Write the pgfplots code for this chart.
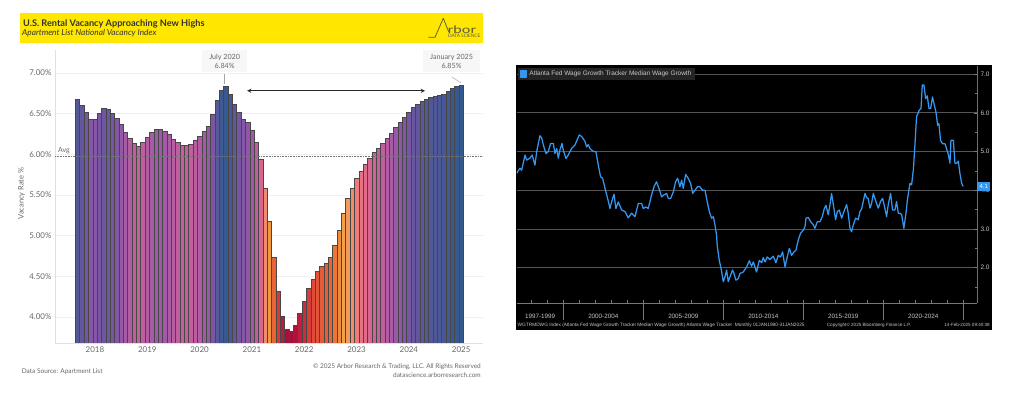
\documentclass[border=0pt]{standalone}
\usepackage{pgfplots}
\pgfplotsset{compat=1.18}
\usepackage{pgfplotstable}
\usepackage{fontspec}
\setmainfont{Lato}
\newfontfamily\bbgfont{Liberation Sans}

\definecolor{arboryellow}{RGB}{255,231,0}
\definecolor{inkdark}{RGB}{51,51,51}
\definecolor{inkgray}{RGB}{105,105,105}
\definecolor{logoink}{RGB}{88,88,66}
\definecolor{wgblue}{RGB}{52,152,240}
\definecolor{bbggrid}{RGB}{85,85,85}
\definecolor{bbgline}{RGB}{120,120,120}
\definecolor{bbgaxis}{RGB}{70,120,180}
\definecolor{bbgtext}{RGB}{200,200,200}

% one vertical bar per month: the mark hangs from the data point and is clipped at the axis floor
\pgfdeclareplotmark{vacbar}{%
  \pgfpathrectangle{\pgfpoint{-2.18bp}{-600bp}}{\pgfpoint{4.36bp}{600bp}}%
  \pgfusepathqfillstroke}

% Apartment List national vacancy index, monthly, Sep 2017 (idx 0) to Jan 2025 (idx 88)
\pgfplotstableread{
idx rate
0 6.68
1 6.60
2 6.52
3 6.43
4 6.43
5 6.50
6 6.56
7 6.55
8 6.50
9 6.44
10 6.37
11 6.27
12 6.20
13 6.14
14 6.10
15 6.15
16 6.21
17 6.27
18 6.31
19 6.31
20 6.28
21 6.25
22 6.19
23 6.15
24 6.11
25 6.11
26 6.12
27 6.17
28 6.22
29 6.28
30 6.34
31 6.49
32 6.66
33 6.79
34 6.84
35 6.74
36 6.62
37 6.52
38 6.43
39 6.39
40 6.29
41 6.15
42 5.94
43 5.58
44 5.18
45 4.73
46 4.32
47 4.01
48 3.85
49 3.83
50 3.90
51 4.05
52 4.19
53 4.35
54 4.47
55 4.56
56 4.62
57 4.66
58 4.74
59 4.88
60 5.07
61 5.27
62 5.46
63 5.58
64 5.70
65 5.79
66 5.88
67 5.95
68 6.02
69 6.08
70 6.14
71 6.20
72 6.26
73 6.33
74 6.39
75 6.45
76 6.52
77 6.58
78 6.61
79 6.65
80 6.68
81 6.70
82 6.71
83 6.72
84 6.74
85 6.77
86 6.81
87 6.84
88 6.85
}\vacancy

% Atlanta Fed wage growth tracker, median wage growth (%)
\pgfplotstableread{
year growth
1997.09 4.44
1997.29 4.57
1997.40 4.52
1997.61 4.91
1997.71 4.78
1997.92 4.83
1998.06 4.91
1998.23 4.65
1998.34 5.00
1998.54 5.41
1998.65 5.35
1998.79 5.12
1998.92 4.95
1999.06 5.00
1999.21 5.21
1999.38 5.21
1999.48 4.95
1999.59 5.08
1999.69 4.83
1999.79 5.04
1999.92 5.21
2000.00 5.04
2000.17 4.82
2000.31 4.91
2000.52 5.08
2000.73 5.17
2001.00 5.43
2001.15 5.39
2001.36 5.26
2001.46 5.12
2001.56 5.18
2001.67 5.08
2001.88 5.00
2002.04 5.00
2002.19 4.65
2002.33 4.35
2002.46 4.31
2002.61 4.05
2002.75 3.83
2002.92 3.53
2003.02 3.70
2003.17 3.90
2003.29 3.53
2003.44 3.70
2003.65 3.49
2003.86 3.45
2004.06 3.29
2004.27 3.41
2004.48 3.32
2004.69 3.66
2004.90 3.66
2005.00 3.53
2005.17 3.57
2005.31 3.53
2005.52 3.88
2005.67 4.09
2005.83 4.22
2005.98 4.05
2006.15 3.83
2006.29 3.88
2006.46 3.92
2006.56 3.79
2006.71 3.79
2006.88 3.96
2007.02 4.22
2007.15 4.31
2007.29 4.09
2007.40 4.26
2007.50 4.05
2007.65 4.41
2007.81 4.31
2007.96 4.18
2008.09 3.92
2008.23 4.00
2008.38 4.09
2008.54 4.09
2008.71 4.00
2008.86 4.00
2009.00 3.70
2009.13 3.45
2009.27 3.28
2009.38 3.32
2009.48 3.11
2009.58 2.85
2009.63 2.54
2009.75 2.20
2009.90 1.90
2010.00 1.64
2010.11 1.77
2010.21 1.94
2010.31 1.64
2010.46 1.81
2010.58 1.94
2010.67 1.85
2010.79 1.68
2010.94 1.72
2011.04 1.85
2011.25 1.89
2011.46 2.02
2011.63 2.18
2011.77 2.04
2011.88 2.15
2012.08 1.89
2012.25 2.19
2012.40 2.13
2012.50 2.26
2012.61 2.15
2012.75 2.28
2012.92 2.21
2013.13 2.30
2013.29 2.13
2013.44 2.32
2013.58 2.28
2013.71 2.41
2013.86 2.02
2014.00 2.28
2014.13 2.50
2014.27 2.32
2014.42 2.41
2014.54 2.45
2014.69 2.72
2014.83 2.89
2015.00 2.97
2015.11 3.06
2015.17 3.28
2015.31 3.30
2015.46 3.19
2015.63 3.11
2015.73 3.02
2015.88 3.19
2016.04 3.19
2016.19 3.32
2016.31 3.52
2016.42 3.61
2016.56 3.37
2016.67 3.63
2016.77 3.92
2016.88 3.63
2017.02 3.24
2017.13 3.45
2017.25 3.49
2017.40 3.28
2017.54 3.45
2017.71 3.63
2017.81 3.41
2017.92 3.02
2018.02 2.93
2018.13 3.11
2018.27 3.28
2018.44 3.24
2018.54 3.45
2018.65 3.52
2018.75 3.71
2018.86 3.92
2018.96 3.81
2019.06 3.79
2019.17 3.54
2019.27 3.66
2019.38 3.92
2019.54 3.71
2019.69 3.54
2019.83 3.71
2019.96 3.79
2020.10 3.54
2020.21 3.32
2020.31 3.63
2020.46 3.92
2020.58 3.49
2020.73 3.49
2020.83 3.71
2020.94 3.41
2021.04 3.41
2021.15 3.37
2021.29 3.02
2021.42 3.41
2021.52 3.79
2021.67 4.18
2021.77 4.14
2021.88 4.52
2021.98 5.17
2022.08 5.90
2022.25 6.07
2022.36 6.11
2022.44 6.72
2022.54 6.72
2022.65 6.37
2022.75 6.44
2022.86 6.11
2022.96 6.11
2023.08 6.41
2023.19 6.20
2023.29 6.03
2023.40 5.68
2023.48 5.72
2023.58 5.29
2023.71 5.20
2023.86 5.20
2023.96 5.07
2024.06 4.94
2024.17 4.70
2024.23 5.29
2024.38 5.29
2024.48 4.70
2024.58 4.70
2024.69 4.75
2024.79 4.44
2024.90 4.18
2025.00 4.10
}\wagegrowth

\begin{document}
\begin{tikzpicture}
\path[use as bounding box] (0bp,0bp) rectangle (1024bp,402bp);
\fill[white] (0bp,0bp) rectangle (1024bp,402bp);

%% ---------------- Arbor panel ----------------
\begin{scope}[x=1bp,y=1bp]
\fill[arboryellow] (20,359) rectangle (483,389);
\node[anchor=base west, inner sep=0, text=inkdark,
      font=\fontsize{9.2}{10}\selectfont\bfseries] at (23,376)
  {U.S. Rental Vacancy Approaching New Highs};
\node[anchor=base west, inner sep=0, text=inkdark,
      font=\fontsize{8.3}{9}\selectfont\itshape] at (22,366.2)
  {Apartment List National Vacancy Index};
% logo
\draw[logoink, line width=0.75, line join=round]
  (428.3,364.7) -- (435,364.7) -- (443.3,383.7) -- (448.6,370.4);
\node[anchor=base west, inner sep=0, text=logoink, xscale=1.45,
      font=\fontsize{10.5}{11}\selectfont] at (447.6,368.8) {rbor};
\node[anchor=base east, inner sep=0, text=logoink,
      font=\fontsize{4.7}{5}\selectfont] at (480.5,364.3) {DATA SCIENCE};
\end{scope}

\begin{axis}[
  at={(55bp,59bp)}, anchor=south west,
  width=428bp, height=293bp, scale only axis,
  xmin=-5.16, xmax=93.0, ymin=3.682, ymax=7.281,
  axis lines*=left,
  axis line style={black!12, line width=0.6},
  major tick length=0pt,
  xtick={4,16,28,40,52,64,76,88},
  xticklabels={2018,2019,2020,2021,2022,2023,2024,2025},
  ytick={4,4.5,5,5.5,6,6.5,7},
  yticklabel={\pgfmathprintnumber[fixed,fixed zerofill,precision=2]{\tick}\%},
  /pgf/number format/assume math mode=true,
  ymajorgrids, major grid style={black!6, line width=0.6},
  tick label style={font=\fontsize{8}{9}\selectfont, text=inkgray},
  ylabel={Vacancy Rate \%},
  ylabel style={font=\fontsize{7.5}{8}\selectfont, text=inkgray, inner sep=1bp, xshift=3bp},
  colormap={vacmap}{
    rgb255(38pt)=(160,12,58);
    rgb255(41pt)=(198,34,60);
    rgb255(44pt)=(220,68,56);
    rgb255(47pt)=(232,98,54);
    rgb255(50pt)=(238,132,58);
    rgb255(53pt)=(243,164,72);
    rgb255(55pt)=(244,150,100);
    rgb255(57pt)=(238,122,122);
    rgb255(59pt)=(222,104,140);
    rgb255(61.5pt)=(192,94,160);
    rgb255(63pt)=(160,90,168);
    rgb255(65pt)=(120,86,165);
    rgb255(67pt)=(80,88,152);
    rgb255(69pt)=(42,90,140)
  },
  point meta min=3.8, point meta max=6.9,
  clip marker paths=true,
]
\addplot[scatter, only marks, mark=vacbar, point meta=y,
  scatter/use mapped color={draw=black!72, fill=mapped color},
  mark options={line width=0.45bp}]
  table[x=idx, y=rate] {\vacancy};
% long-run average
\addplot[black!55, densely dotted, line width=0.6bp]
  coordinates {(-5.16,5.98) (93,5.98)};
\coordinate (avgL) at (axis cs:-5.16,5.98);
\coordinate (julBox) at (axis cs:33.75,7.142);
\coordinate (julA) at (axis cs:33.6,6.985);
\coordinate (julB) at (axis cs:33.6,6.86);
\coordinate (janBox) at (axis cs:85.8,7.142);
\coordinate (janA) at (axis cs:85.9,6.95);
\coordinate (janB) at (axis cs:87.95,6.877);
\coordinate (arrL) at (axis cs:38.9,6.78);
\coordinate (arrR) at (axis cs:79.7,6.78);
\end{axis}

\node[anchor=base west, inner sep=0, text=inkgray,
      font=\fontsize{7}{8}\selectfont] at ([xshift=3bp,yshift=3.5bp]avgL) {Avg};
\node[fill=black!3, minimum width=45bp, minimum height=22bp, inner sep=1bp,
      align=center, text=inkgray, font=\fontsize{7.2}{9}\selectfont] at (julBox)
  {July 2020\\6.84\%};
\draw[black!35, line width=0.45bp] (julA) -- (julB);
\node[fill=black!3, minimum width=57bp, minimum height=22bp, inner sep=1bp,
      align=center, text=inkgray, font=\fontsize{7.2}{9}\selectfont] at (janBox)
  {January 2025\\6.85\%};
\draw[black!35, line width=0.45bp] (janA) -- (janB);
\draw[<->, >=stealth, black!85, line width=0.9bp] (arrL) -- (arrR);

\begin{scope}[x=1bp,y=1bp]
\node[anchor=base west, inner sep=0, text=inkgray,
      font=\fontsize{6.5}{7}\selectfont] at (21.7,28.5) {Data Source: Apartment List};
\node[anchor=base east, inner sep=0, text=inkgray,
      font=\fontsize{6.5}{7}\selectfont] at (481,33.5)
  {\textcopyright{} 2025 Arbor Research \& Trading, LLC. All Rights Reserved};
\node[anchor=base east, inner sep=0, text=inkgray,
      font=\fontsize{6.5}{7}\selectfont] at (481,25) {datascience.arborresearch.com};

%% ---------------- Bloomberg panel ----------------
\fill[black] (516,72) rectangle (992,337);
\end{scope}

\begin{axis}[
  at={(516.7bp,99bp)}, anchor=south west,
  width=460.3bp, height=237bp, scale only axis,
  xmin=1997.09, xmax=2025.86, ymin=1.09, ymax=7.21,
  axis x line*=bottom, axis y line*=right,
  x axis line style={bbgline, line width=0.8bp},
  y axis line style={bbgaxis, line width=0.8bp},
  tick align=inside,
  major tick length=3bp, minor tick length=2bp,
  tick style={bbgline, line width=0.6bp},
  xtick={1998,...,2025}, xticklabels={},
  extra x ticks={2000,2005,2010,2015,2020,2025},
  extra x tick labels={},
  extra x tick style={tick align=outside, major tick length=17bp},
  ytick={2,3,4,5,6,7},
  minor ytick={1.5,2.5,3.5,4.5,5.5,6.5},
  yticklabel style={font=\bbgfont\fontsize{6.5}{7}\selectfont, text=bbgtext},
  yticklabel style={/pgf/number format/.cd, fixed, fixed zerofill, precision=1,
                    assume math mode=true},
  ymajorgrids, major grid style={bbggrid, line width=0.8bp},
  legend style={at={(0,1)}, anchor=north west, xshift=1.3bp, yshift=-2bp,
                fill=black!86, draw=none, text=bbgtext, inner xsep=2bp, inner ysep=0.8bp,
                font=\bbgfont\fontsize{6.5}{7}\selectfont},
  legend cell align=left,
  legend image code/.code={\fill[wgblue] (0bp,-3bp) rectangle (6bp,3bp);},
]
\addplot[wgblue, line width=1.25bp, line join=round] table[x=year, y=growth] {\wagegrowth};
\addlegendentry{Atlanta Fed Wage Growth Tracker Median Wage Growth}
\coordinate (p1) at (axis cs:1998.55,1.09);
\coordinate (p2) at (axis cs:2002.5,1.09);
\coordinate (p3) at (axis cs:2007.5,1.09);
\coordinate (p4) at (axis cs:2012.5,1.09);
\coordinate (p5) at (axis cs:2017.5,1.09);
\coordinate (p6) at (axis cs:2022.5,1.09);
\coordinate (lastv) at (axis cs:2025.86,4.1);
\end{axis}

\foreach \c/\t in {p1/1997-1999, p2/2000-2004, p3/2005-2009, p4/2010-2014, p5/2015-2019, p6/2020-2024}
  \node[anchor=base, inner sep=0, text=bbgtext,
        font=\bbgfont\fontsize{6.3}{7}\selectfont] at ([yshift=-16bp]\c) {\t};
\node[anchor=west, fill=wgblue, text=white, inner sep=0.8bp, minimum height=9bp,
      minimum width=13bp, font=\bbgfont\fontsize{6}{7}\selectfont] at (lastv) {4.1};

\begin{scope}[x=1bp,y=1bp]
\node[anchor=base west, inner sep=0, text=bbgtext,
      font=\bbgfont\fontsize{4.8}{5}\selectfont] at (517.5,76)
  {WGTRMDWG Index (Atlanta Fed Wage Growth Tracker Median Wage Growth) Atlanta Wage Tracker\ \ Monthly 01JAN1980-31JAN2025};
\node[anchor=base west, inner sep=0, text=bbgtext,
      font=\bbgfont\fontsize{4.6}{5}\selectfont] at (826.7,76)
  {Copyright\textcopyright{} 2025 Bloomberg Finance L.P.};
\node[anchor=base east, inner sep=0, text=bbgtext,
      font=\bbgfont\fontsize{4.6}{5}\selectfont] at (990,76)
  {14-Feb-2025 09:40:38};
\end{scope}
\end{tikzpicture}
\end{document}
